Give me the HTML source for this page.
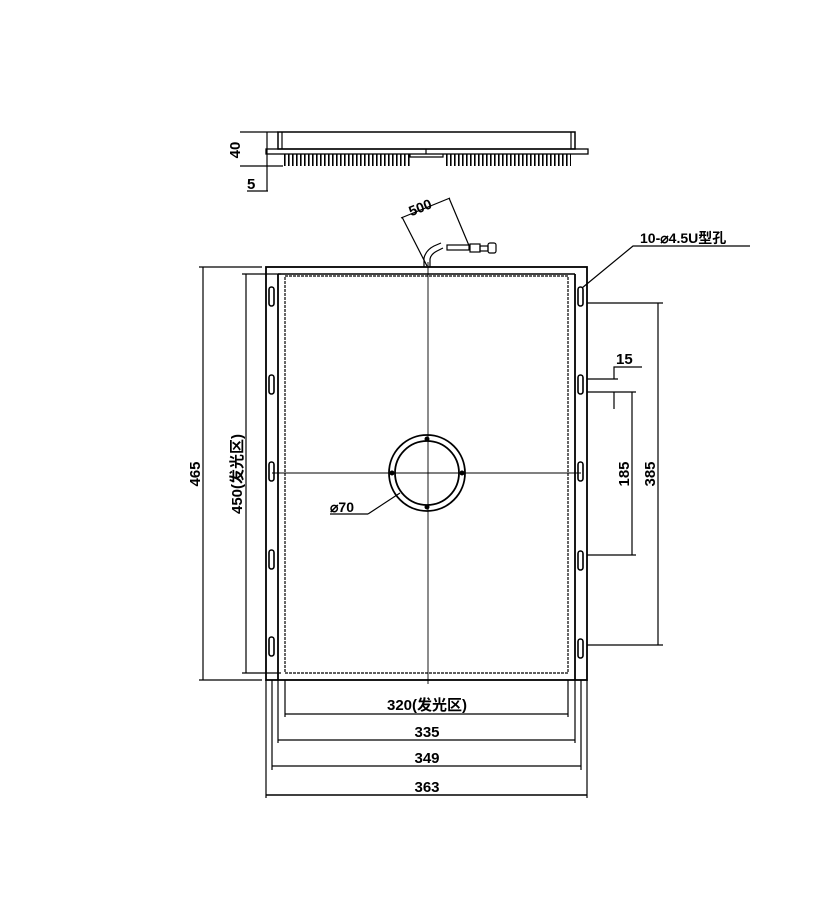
<!DOCTYPE html>
<html><head><meta charset="utf-8"><style>
html,body{margin:0;padding:0;background:#fff;width:821px;height:910px;overflow:hidden}
text{font-family:"Liberation Sans","Noto Sans CJK SC",sans-serif;font-weight:bold;fill:#000}
</style></head><body>
<svg width="821" height="910" viewBox="0 0 821 910" xmlns="http://www.w3.org/2000/svg">
<g stroke="#000" fill="none" stroke-width="1.2">
<rect x="278" y="132" width="297" height="17" stroke-width="1.5"/>
<line x1="282" y1="132" x2="282" y2="149"/>
<line x1="571" y1="132" x2="571" y2="149"/>
<rect x="266" y="149" width="322" height="5" stroke-width="1.3"/>
<path d="M410 154 V157 H443 V154"/>
<line x1="426" y1="149" x2="426" y2="154"/>
<g stroke-dasharray="1.6,2.4">
<line x1="284" y1="160" x2="410" y2="160" stroke-width="12"/>
<line x1="446" y1="160" x2="571" y2="160" stroke-width="12"/>
</g>
<line x1="240" y1="132" x2="278" y2="132"/>
<line x1="240" y1="166" x2="283" y2="166"/>
<line x1="267" y1="132" x2="267" y2="191"/>
<line x1="247" y1="191" x2="268" y2="191"/>
<line x1="402" y1="217" x2="427" y2="266"/>
<line x1="449" y1="198" x2="470" y2="248"/>
<line x1="401" y1="218" x2="450" y2="198"/>
<path d="M424 267 V258 Q426 250 434 246 L441 243 M430 267 V259 Q431 254 437 251 L443 248" />
<rect x="447" y="245" width="22" height="5"/>
<rect x="470" y="244" width="10" height="8"/>
<rect x="480" y="246" width="8" height="5"/>
<rect x="488" y="243" width="8" height="10" rx="2"/>
<rect x="266" y="267" width="321" height="413" stroke-width="1.8"/>
<line x1="278" y1="274" x2="278" y2="680" stroke-width="1.8"/>
<line x1="575" y1="274" x2="575" y2="680" stroke-width="1.8"/>
<line x1="278" y1="274" x2="575" y2="274" stroke-width="1.4"/>
<rect x="285" y="276" width="283" height="397" stroke-dasharray="3,1"/>
<line x1="428" y1="262" x2="428" y2="684" stroke-width="0.9"/>
<line x1="272" y1="473" x2="581" y2="473" stroke-width="0.9"/>
<circle cx="427" cy="473" r="38" stroke-width="1.8"/>
<circle cx="427" cy="473" r="32" stroke-width="1.8"/>
<line x1="368" y1="514" x2="400" y2="493"/>
<line x1="330" y1="514" x2="368" y2="514"/>
<g stroke-width="1.6">
<rect x="269" y="287" width="5" height="19" rx="2.5"/>
<rect x="269" y="375" width="5" height="19" rx="2.5"/>
<rect x="269" y="462" width="5" height="19" rx="2.5"/>
<rect x="269" y="550" width="5" height="19" rx="2.5"/>
<rect x="269" y="637" width="5" height="19" rx="2.5"/>
<rect x="578" y="287" width="5" height="19" rx="2.5"/>
<rect x="578" y="375" width="5" height="19" rx="2.5"/>
<rect x="578" y="462" width="5" height="19" rx="2.5"/>
<rect x="578" y="551" width="5" height="19" rx="2.5"/>
<rect x="578" y="639" width="5" height="19" rx="2.5"/>
</g>
<polyline points="582,288 633,246 750,246"/>
<line x1="587" y1="303" x2="663" y2="303"/>
<line x1="658" y1="303" x2="658" y2="645"/>
<line x1="587" y1="645" x2="663" y2="645"/>
<line x1="587" y1="379" x2="618" y2="379"/>
<polyline points="614,379 614,367 642,367"/>
<line x1="587" y1="392" x2="636" y2="392"/>
<line x1="614" y1="392" x2="614" y2="409"/>
<line x1="632" y1="392" x2="632" y2="555"/>
<line x1="587" y1="555" x2="636" y2="555"/>
<line x1="199" y1="267" x2="262" y2="267"/>
<line x1="203" y1="267" x2="203" y2="680"/>
<line x1="199" y1="680" x2="262" y2="680"/>
<line x1="242" y1="274" x2="281" y2="274"/>
<line x1="246" y1="274" x2="246" y2="673"/>
<line x1="242" y1="673" x2="281" y2="673"/>
<line x1="285" y1="680" x2="285" y2="717"/>
<line x1="568" y1="680" x2="568" y2="717"/>
<line x1="285" y1="714" x2="568" y2="714"/>
<line x1="278" y1="680" x2="278" y2="743"/>
<line x1="575" y1="680" x2="575" y2="743"/>
<line x1="278" y1="740" x2="575" y2="740"/>
<line x1="272" y1="680" x2="272" y2="770"/>
<line x1="581" y1="680" x2="581" y2="770"/>
<line x1="272" y1="766" x2="581" y2="766"/>
<line x1="266" y1="680" x2="266" y2="798"/>
<line x1="587" y1="680" x2="587" y2="798"/>
<line x1="266" y1="795" x2="587" y2="795" stroke-width="1.6"/>
</g>
<g fill="#000">
<circle cx="427" cy="439" r="2.5"/><circle cx="427" cy="507" r="2.5"/>
<circle cx="392" cy="473" r="2.5"/><circle cx="462" cy="473" r="2.5"/>
</g>
<text x="240" y="150" font-size="15" transform="rotate(-90 240 150)" text-anchor="middle">40</text>
<text x="247" y="189" font-size="15">5</text>
<text x="422" y="212" font-size="14" transform="rotate(-22 422 212)" text-anchor="middle">500</text>
<text x="640" y="243" font-size="14">10-⌀4.5U型孔</text>
<text x="616" y="364" font-size="15">15</text>
<text x="629" y="474" font-size="15" transform="rotate(-90 629 474)" text-anchor="middle">185</text>
<text x="655" y="474" font-size="15" transform="rotate(-90 655 474)" text-anchor="middle">385</text>
<text x="200" y="474" font-size="15" transform="rotate(-90 200 474)" text-anchor="middle">465</text>
<text x="242" y="474" font-size="15" transform="rotate(-90 242 474)" text-anchor="middle">450(发光区)</text>
<text x="330" y="512" font-size="14">⌀70</text>
<text x="427" y="710" font-size="15" text-anchor="middle">320(发光区)</text>
<text x="427" y="737" font-size="15" text-anchor="middle">335</text>
<text x="427" y="763" font-size="15" text-anchor="middle">349</text>
<text x="427" y="792" font-size="15" text-anchor="middle">363</text>
</svg>
</body></html>
